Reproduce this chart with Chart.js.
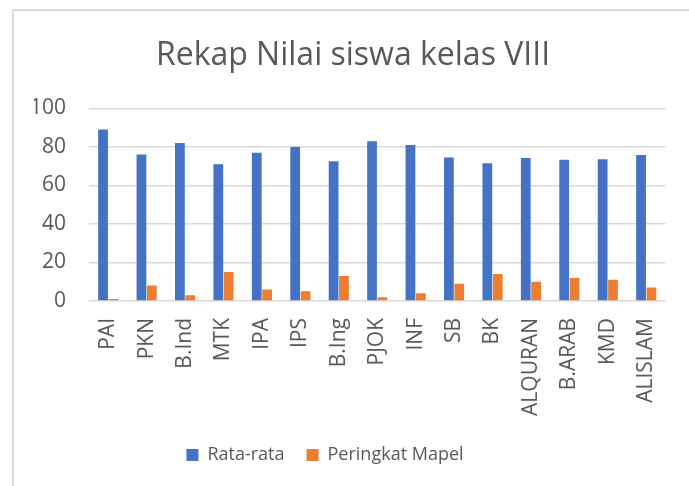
<!DOCTYPE html>
<html>
<head>
<meta charset="utf-8">
<script src="https://cdn.jsdelivr.net/npm/chart.js@4/dist/chart.umd.min.js"></script>
<style>
  html, body { margin: 0; padding: 0; background: #ffffff; overflow: hidden; }
  #wrap { position: relative; width: 689px; height: 486px; }
  #frame { position: absolute; left: 12px; top: 9px; width: 720px; height: 520px; border: 2px solid #d9d9d9; box-sizing: border-box; }
  #c { position: absolute; left: 0; top: 0; }
</style>
</head>
<body>
<div id="wrap">
  <div id="frame"></div>
  <canvas id="c" width="689" height="486"></canvas>
</div>
<script>
const titleText = "Rekap Nilai siswa kelas VIII";
const categories = ["PAI", "PKN", "B.Ind", "MTK", "IPA", "IPS", "B.Ing", "PJOK", "INF", "SB", "BK", "ALQURAN", "B.ARAB", "KMD", "ALISLAM"];
const rataRata = [89, 76, 82, 71, 77, 80, 72.5, 83, 81, 74.5, 71.5, 74.2, 73.3, 73.6, 75.8];
const peringkatMapel = [1, 8, 3, 15, 6, 5, 13, 2, 4, 9, 14, 10, 12, 11, 7];
const seriesNames = ["Rata-rata", "Peringkat Mapel"];
const yTicks = [0, 20, 40, 60, 80, 100];

const textColor = "#595959";
const fontFamily = "'Open Sans', 'Liberation Sans', sans-serif";

// shifts the legend horizontally after layout (legend in the original is off-centre)
const legendShift = {
  id: "legendShift",
  afterLayout(chart) {
    const lg = chart.legend;
    if (lg && !lg._shifted) {
      lg.left -= 28; lg.right -= 28; lg._shifted = true;
    }
  }
};

new Chart(document.getElementById("c"), {
  type: "bar",
  data: {
    labels: categories,
    datasets: [
      { label: seriesNames[0], data: rataRata, backgroundColor: "#4472C4", categoryPercentage: 0.54, barPercentage: 0.94 },
      { label: seriesNames[1], data: peringkatMapel, backgroundColor: "#ED7D31", categoryPercentage: 0.54, barPercentage: 0.94 }
    ]
  },
  plugins: [legendShift],
  options: {
    responsive: false,
    animation: false,
    layout: { padding: { left: 34, right: 17, top: 0, bottom: 12 } },
    plugins: {
      title: {
        display: true,
        text: titleText,
        color: textColor,
        font: { family: fontFamily, size: 32, weight: "normal" },
        padding: { top: 37, bottom: 33 }
      },
      legend: {
        position: "bottom",
        labels: {
          color: textColor,
          font: { family: fontFamily, size: 18 },
          boxWidth: 12,
          boxHeight: 12,
          padding: 22
        }
      },
      tooltip: { enabled: false }
    },
    scales: {
      x: {
        grid: { display: false, drawTicks: false },
        border: { display: false },
        ticks: {
          color: textColor,
          font: { family: fontFamily, size: 21 },
          minRotation: 90,
          maxRotation: 90,
          autoSkip: false,
          padding: 17
        },
        afterFit: (s) => { s.height = 123; }
      },
      y: {
        min: 0,
        max: 100,
        afterBuildTicks: (s) => { s.ticks = yTicks.map(v => ({ value: v })); },
        grid: { color: "#d9d9d9", lineWidth: 1.6, drawTicks: false },
        border: { display: false },
        ticks: {
          color: textColor,
          font: { family: fontFamily, size: 21 },
          padding: 23
        },
        afterFit: (s) => { s.width = 55; }
      }
    }
  }
});
</script>
</body>
</html>
